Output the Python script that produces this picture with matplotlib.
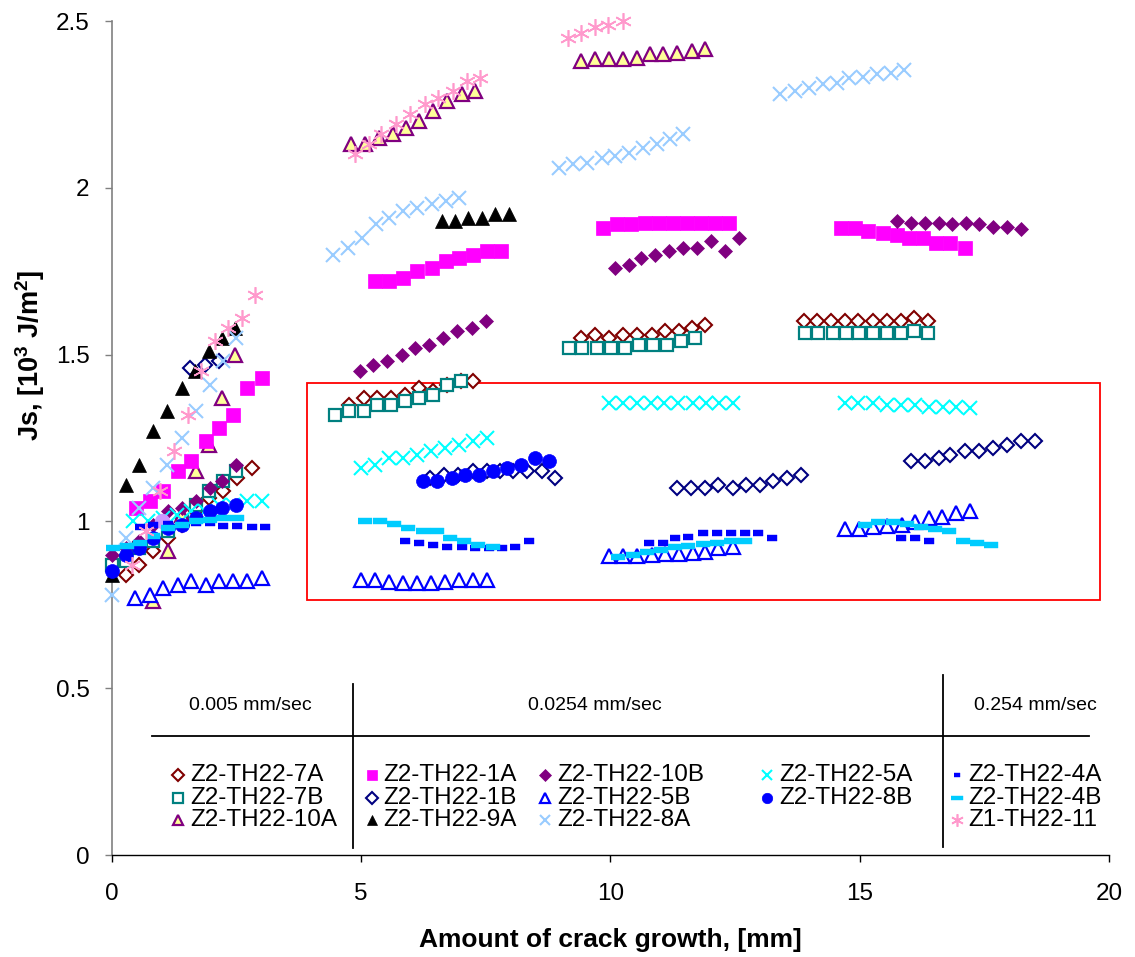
import matplotlib.pyplot as plt
from matplotlib.lines import Line2D
from matplotlib.patches import Rectangle

plt.rcParams['font.family'] = ['Liberation Sans', 'DejaVu Sans']
plt.rcParams['mathtext.fontset'] = 'custom'
plt.rcParams['mathtext.rm'] = 'Liberation Sans'
plt.rcParams['mathtext.bf'] = 'Liberation Sans:bold'

# crack growth [mm] and Js [10^3 J/m^2]
x_7a = [0.29, 0.55, 0.83, 1.12, 1.40, 1.69, 1.96, 2.24, 2.52, 2.81,
        4.76, 5.05, 5.33, 5.61, 5.88, 6.17, 6.45, 6.72, 7.00, 7.25,
        9.42, 9.69, 9.98, 10.26, 10.54, 10.83, 11.09, 11.38, 11.63, 11.90,
        13.88, 14.14, 14.42, 14.70, 14.97, 15.26, 15.54, 15.82, 16.09, 16.37]
y_7a = [0.84, 0.87, 0.91, 0.95, 0.99, 1.03, 1.07, 1.09, 1.13, 1.16,
        1.35, 1.37, 1.37, 1.37, 1.38, 1.40, 1.39, 1.41, 1.42, 1.42,
        1.55, 1.56, 1.55, 1.56, 1.56, 1.56, 1.57, 1.57, 1.58, 1.59,
        1.60, 1.60, 1.60, 1.60, 1.60, 1.60, 1.60, 1.60, 1.61, 1.60]

x_7b = [0.00, 0.29, 0.55, 0.83, 1.12, 1.40, 1.69, 1.96, 2.24, 2.49,
        4.48, 4.76, 5.05, 5.33, 5.61, 5.88, 6.17, 6.45, 6.72, 7.00,
        9.18, 9.44, 9.73, 10.01, 10.29, 10.58, 10.86, 11.13, 11.42, 11.70,
        13.90, 14.17, 14.46, 14.72, 14.99, 15.26, 15.54, 15.82, 16.09, 16.37]
y_7b = [0.87, 0.88, 0.92, 0.94, 0.97, 1.00, 1.05, 1.09, 1.12, 1.15,
        1.32, 1.33, 1.33, 1.35, 1.35, 1.36, 1.37, 1.38, 1.41, 1.42,
        1.52, 1.52, 1.52, 1.52, 1.52, 1.53, 1.53, 1.53, 1.54, 1.55,
        1.566, 1.566, 1.566, 1.566, 1.566, 1.566, 1.566, 1.566, 1.572, 1.566]

x_10a = [0.83, 1.12, 1.40, 1.69, 1.96, 2.21, 2.47,
         4.80, 5.08, 5.37, 5.65, 5.90, 6.17, 6.45, 6.73, 7.02, 7.28,
         9.42, 9.69, 9.98, 10.26, 10.54, 10.79, 11.06, 11.34, 11.63, 11.90]
y_10a = [0.76, 0.91, 1.02, 1.15, 1.23, 1.37, 1.50,
         2.13, 2.13, 2.15, 2.16, 2.18, 2.20, 2.23, 2.26, 2.28, 2.29,
         2.38, 2.385, 2.385, 2.385, 2.39, 2.40, 2.40, 2.405, 2.41, 2.415]

x_1a = [0.49, 0.77, 1.03, 1.32, 1.60, 1.89, 2.16, 2.44, 2.72, 3.01,
        5.28, 5.57, 5.85, 6.13, 6.42, 6.70, 6.97, 7.25, 7.53, 7.81,
        9.86, 10.14, 10.41, 10.69, 10.97, 11.26, 11.54, 11.82, 12.10, 12.38,
        14.62, 14.90, 15.17, 15.46, 15.74, 15.99, 16.26, 16.54, 16.82, 17.11]
y_1a = [1.04, 1.06, 1.09, 1.15, 1.18, 1.24, 1.28, 1.32, 1.40, 1.43,
        1.72, 1.72, 1.73, 1.75, 1.76, 1.78, 1.79, 1.80, 1.81, 1.81,
        1.88, 1.89, 1.89, 1.895, 1.895, 1.895, 1.895, 1.895, 1.895, 1.895,
        1.88, 1.88, 1.87, 1.865, 1.86, 1.85, 1.85, 1.835, 1.835, 1.82]

x_1b = [1.58, 1.87, 2.16,
        6.38, 6.66, 6.95, 7.24, 7.52, 7.79, 8.05, 8.33, 8.62, 8.89,
        11.33, 11.61, 11.90, 12.16, 12.45, 12.73, 13.01, 13.27, 13.55, 13.82,
        16.02, 16.31, 16.60, 16.82, 17.11, 17.40, 17.67, 17.95, 18.23, 18.51]
y_1b = [1.46, 1.47, 1.48,
        1.13, 1.14, 1.14, 1.15, 1.15, 1.15, 1.15, 1.15, 1.15, 1.13,
        1.10, 1.10, 1.10, 1.11, 1.10, 1.11, 1.11, 1.12, 1.13, 1.14,
        1.18, 1.18, 1.19, 1.20, 1.21, 1.21, 1.22, 1.23, 1.24, 1.24]

x_9a = [0.00, 0.29, 0.55, 0.83, 1.11, 1.40, 1.67, 1.96, 2.22, 2.47,
        6.62, 6.88, 7.15, 7.42, 7.69, 7.97]
y_9a = [0.84, 1.11, 1.17, 1.27, 1.33, 1.40, 1.45, 1.51, 1.55, 1.58,
        1.90, 1.90, 1.91, 1.91, 1.92, 1.92]

x_10b = [0.00, 0.29, 0.55, 0.83, 1.12, 1.40, 1.69, 1.97, 2.21, 2.49,
         4.97, 5.25, 5.53, 5.82, 6.08, 6.37, 6.65, 6.93, 7.22, 7.51,
         10.09, 10.38, 10.61, 10.89, 11.18, 11.46, 11.74, 12.02, 12.30, 12.58,
         15.74, 16.02, 16.31, 16.59, 16.86, 17.14, 17.40, 17.68, 17.96, 18.23]
y_10b = [0.90, 0.92, 0.94, 0.99, 1.03, 1.04, 1.06, 1.10, 1.12, 1.17,
         1.45, 1.47, 1.48, 1.50, 1.52, 1.53, 1.55, 1.57, 1.58, 1.60,
         1.76, 1.77, 1.79, 1.80, 1.81, 1.82, 1.82, 1.84, 1.81, 1.85,
         1.90, 1.895, 1.895, 1.895, 1.89, 1.895, 1.89, 1.883, 1.883, 1.876]

x_5b = [0.47, 0.76, 1.03, 1.32, 1.60, 1.89, 2.16, 2.44, 2.72, 3.01,
        4.99, 5.28, 5.57, 5.85, 6.13, 6.40, 6.68, 6.97, 7.25, 7.53,
        9.98, 10.26, 10.54, 10.83, 11.09, 11.38, 11.65, 11.90, 12.16, 12.45,
        14.70, 14.99, 15.27, 15.55, 15.84, 16.11, 16.39, 16.66, 16.94, 17.22]
y_5b = [0.77, 0.78, 0.80, 0.81, 0.82, 0.81, 0.82, 0.82, 0.82, 0.83,
        0.824, 0.824, 0.819, 0.814, 0.814, 0.814, 0.819, 0.824, 0.824, 0.824,
        0.896, 0.896, 0.896, 0.899, 0.902, 0.902, 0.906, 0.909, 0.919, 0.924,
        0.976, 0.976, 0.982, 0.986, 0.989, 0.999, 1.009, 1.012, 1.026, 1.032]

x_8a = [0.00, 0.29, 0.55, 0.83, 1.11, 1.40, 1.69, 1.97, 2.24, 2.49,
        4.44, 4.74, 5.01, 5.30, 5.57, 5.85, 6.13, 6.42, 6.70, 6.97,
        8.98, 9.26, 9.54, 9.83, 10.09, 10.38, 10.66, 10.94, 11.20, 11.46,
        13.41, 13.70, 13.99, 14.26, 14.54, 14.79, 15.07, 15.35, 15.62, 15.89]
y_8a = [0.78, 0.95, 1.04, 1.10, 1.17, 1.25, 1.33, 1.41, 1.48, 1.55,
        1.80, 1.82, 1.85, 1.89, 1.91, 1.93, 1.94, 1.95, 1.96, 1.97,
        2.06, 2.07, 2.075, 2.09, 2.095, 2.105, 2.12, 2.13, 2.145, 2.16,
        2.28, 2.29, 2.30, 2.31, 2.315, 2.33, 2.333, 2.34, 2.345, 2.353]

x_5a = [0.43, 0.73, 1.02, 1.30, 1.59, 1.87, 2.16, 2.44, 2.72, 3.01,
        4.99, 5.28, 5.57, 5.85, 6.13, 6.40, 6.68, 6.97, 7.25, 7.53,
        9.98, 10.26, 10.54, 10.81, 11.07, 11.36, 11.65, 11.92, 12.18, 12.46,
        14.70, 14.97, 15.26, 15.55, 15.82, 16.11, 16.39, 16.68, 16.94, 17.22]
y_5a = [1.00, 1.00, 1.01, 1.02, 1.03, 1.03, 1.05, 1.05, 1.06, 1.06,
        1.16, 1.17, 1.19, 1.19, 1.20, 1.21, 1.22, 1.23, 1.24, 1.25,
        1.356, 1.356, 1.356, 1.356, 1.356, 1.356, 1.356, 1.356, 1.356, 1.356,
        1.356, 1.356, 1.356, 1.349, 1.349, 1.349, 1.344, 1.344, 1.344, 1.339]

x_8b = [0.00, 0.29, 0.55, 0.83, 1.12, 1.40, 1.69, 1.97, 2.21, 2.49,
        6.25, 6.53, 6.82, 7.08, 7.37, 7.65, 7.93, 8.20, 8.49, 8.77]
y_8b = [0.85, 0.90, 0.92, 0.95, 0.98, 0.99, 1.01, 1.03, 1.04, 1.05,
        1.12, 1.12, 1.13, 1.14, 1.14, 1.15, 1.16, 1.17, 1.19, 1.18]

x_4a = [0.57, 0.83, 1.12, 1.40, 1.69, 1.97, 2.24, 2.52, 2.81, 3.07,
        5.88, 6.17, 6.45, 6.73, 7.02, 7.28, 7.57, 7.82, 8.09, 8.37,
        10.78, 11.05, 11.30, 11.56, 11.85, 12.13, 12.41, 12.70, 12.97, 13.25,
        15.82, 16.11, 16.39]
y_4a = [0.984, 0.989, 0.992, 0.994, 0.994, 0.996, 0.986, 0.986, 0.984, 0.984,
        0.942, 0.936, 0.929, 0.924, 0.924, 0.919, 0.919, 0.919, 0.924, 0.942,
        0.936, 0.936, 0.949, 0.954, 0.966, 0.966, 0.966, 0.966, 0.966, 0.949,
        0.949, 0.949, 0.942]

x_4b = [0.03, 0.30, 0.57, 0.83, 1.13, 1.40, 1.70, 1.97, 2.24, 2.51,
        5.08, 5.38, 5.66, 5.95, 6.24, 6.52, 6.78, 7.06, 7.35, 7.64,
        10.16, 10.45, 10.73, 11.01, 11.30, 11.56, 11.85, 12.13, 12.41, 12.70,
        15.11, 15.37, 15.66, 15.94, 16.22, 16.51, 16.80, 17.08, 17.36, 17.63]
y_4b = [0.920, 0.925, 0.935, 0.955, 0.980, 0.990, 1.000, 1.005, 1.010, 1.010,
        1.002, 1.002, 0.992, 0.979, 0.972, 0.972, 0.949, 0.942, 0.929, 0.924,
        0.894, 0.899, 0.909, 0.914, 0.922, 0.926, 0.932, 0.936, 0.942, 0.942,
        0.989, 0.999, 0.999, 0.992, 0.984, 0.976, 0.972, 0.942, 0.936, 0.929]

x_11 = [0.40, 0.69, 0.97, 1.25, 1.54, 1.80, 2.07, 2.34, 2.61, 2.87,
        4.88, 5.15, 5.41, 5.71, 5.98, 6.28, 6.55, 6.85, 7.12, 7.39,
        9.16, 9.42, 9.69, 9.96, 10.25]
y_11 = [0.87, 0.97, 1.09, 1.21, 1.32, 1.45, 1.54, 1.58, 1.61, 1.68,
        2.10, 2.13, 2.16, 2.19, 2.22, 2.25, 2.27, 2.29, 2.32, 2.33,
        2.448, 2.463, 2.483, 2.488, 2.50]

# stray point of an unlisted series
x_extra = [1.00]
y_extra = [1.00]

xticks = [0, 5, 10, 15, 20]
yticks = [0, 0.5, 1, 1.5, 2, 2.5]
ytick_labels = ['0', '0.5', '1', '1.5', '2', '2.5']
rates = ['0.005 mm/sec', '0.0254 mm/sec', '0.254 mm/sec']

W, H = 1135, 957


def fx(px):
    return px / W


def fy(py):
    return 1 - py / H


bar_long = [(-1, -0.4), (1, -0.4), (1, 0.4), (-1, 0.4)]
bar_short = [(-1, -0.6), (1, -0.6), (1, 0.6), (-1, 0.6)]
star6 = (6, 2, 0)

# label, x, y, style, legend column, legend row
series = [
    ('Z2-TH22-7A', x_7a, y_7a, dict(marker='D', ms=7.5, mfc='white', mec='#800000', mew=1.5), 0, 0),
    ('Z2-TH22-7B', x_7b, y_7b, dict(marker='s', ms=9.2, mfc='white', mec='#008080', mew=1.6), 0, 1),
    ('Z2-TH22-10A', x_10a, y_10a, dict(marker='^', ms=10, mfc='#FFFF99', mec='#800080', mew=1.6), 0, 2),
    ('Z2-TH22-1A', x_1a, y_1a, dict(marker='s', ms=9.6, mfc='#FF00FF', mec='#FF00FF', mew=0.5), 1, 0),
    ('Z2-TH22-1B', x_1b, y_1b, dict(marker='D', ms=7.5, mfc='white', mec='#000080', mew=1.5), 1, 1),
    ('Z2-TH22-9A', x_9a, y_9a, dict(marker='^', ms=10, mfc='black', mec='black', mew=0.5), 1, 2),
    ('Z2-TH22-10B', x_10b, y_10b, dict(marker='D', ms=7.5, mfc='#800080', mec='#800080', mew=0.5), 2, 0),
    ('Z2-TH22-5B', x_5b, y_5b, dict(marker='^', ms=10, mfc='white', mec='#0000FF', mew=1.6), 2, 1),
    ('Z2-TH22-8A', x_8a, y_8a, dict(marker='x', ms=10, mec='#99CCFF', mew=1.5), 2, 2),
    ('Z2-TH22-5A', x_5a, y_5a, dict(marker='x', ms=10, mec='#00FFFF', mew=1.5), 3, 0),
    ('Z2-TH22-8B', x_8b, y_8b, dict(marker='o', ms=10, mfc='#0000FF', mec='#0000FF', mew=0.5), 3, 1),
    ('Z2-TH22-4A', x_4a, y_4a, dict(marker=bar_short, ms=6.7, mfc='#0000FF', mec='#0000FF', mew=0.3), 4, 0),
    ('Z2-TH22-4B', x_4b, y_4b, dict(marker=bar_long, ms=10.6, mfc='#00CCFF', mec='#00CCFF', mew=0.3), 4, 1),
    ('Z1-TH22-11', x_11, y_11, dict(marker=star6, ms=12, mec='#FF99CC', mfc='#FF99CC', mew=1.2), 4, 2),
]

fig = plt.figure(figsize=(W / 100, H / 100), dpi=100)
ax = fig.add_axes([fx(111.7), fy(855), fx(1109) - fx(111.7), fy(21) - fy(855)])

for label, xs, ys, st, c, r in series:
    ax.plot(xs, ys, linestyle='none', clip_on=False, zorder=3, **st)
    if label == 'Z2-TH22-8B':
        ax.plot(x_extra, y_extra, linestyle='none', marker='o', ms=10,
                mfc='#CC99FF', mec='#CC99FF', clip_on=False, zorder=3)

ax.add_patch(Rectangle((3.92, 0.764), 19.82 - 3.92, 1.415 - 0.764, fill=False,
                       edgecolor='#FF0000', linewidth=1.3, zorder=2))

ax.set_xlim(0, 20)
ax.set_ylim(0, 2.5)
ax.set_xticks(xticks)
ax.set_yticks(yticks)
ax.set_yticklabels(ytick_labels)
ax.spines['top'].set_visible(False)
ax.spines['right'].set_visible(False)
ax.spines['left'].set_color('#808080')
ax.spines['left'].set_linewidth(1.2)
ax.spines['bottom'].set_color('black')
ax.spines['bottom'].set_linewidth(1.0)
ax.tick_params(axis='x', direction='out', length=5, width=1, color='black',
               labelsize=17.5, pad=15)
ax.tick_params(axis='y', direction='out', length=5, width=1, color='#808080',
               labelsize=17.5, pad=11)

fig.text(fx(610), fy(940), 'Amount of crack growth, [mm]', ha='center', va='center',
         fontsize=19, fontweight='bold')
fig.text(fx(30), fy(355), r'Js, [10$^{\mathbf{3}}$ J/m$^{\mathbf{2}}$]', ha='center',
         va='center', rotation=90, fontsize=19.5, fontweight='bold')

# legend block with loading rate headers
col_mark = [178, 372, 545, 767, 957]
col_text = [190, 383, 557, 779, 968]
row_y = [775, 798, 820]
for label, xs, ys, st, c, r in series:
    lst = dict(st)
    lst['ms'] = st['ms'] * 0.75
    fig.add_artist(Line2D([fx(col_mark[c])], [fy(row_y[r])], linestyle='none',
                          transform=fig.transFigure, **lst))
    fig.text(fx(col_text[c]), fy(row_y[r]), label, ha='left', va='center', fontsize=17.5)

for txt, cx in zip(rates, [250, 595, 1035]):
    fig.text(fx(cx), fy(706), txt, ha='center', va='center', fontsize=14)
fig.add_artist(Line2D([fx(152), fx(1089)], [fy(736), fy(736)], color='black', lw=1.3,
                      transform=fig.transFigure))
fig.add_artist(Line2D([fx(353), fx(353)], [fy(684), fy(848)], color='black', lw=1.3,
                      transform=fig.transFigure))
fig.add_artist(Line2D([fx(943), fx(943)], [fy(675), fy(847)], color='black', lw=1.3,
                      transform=fig.transFigure))

fig.savefig('out.png', dpi=100)
